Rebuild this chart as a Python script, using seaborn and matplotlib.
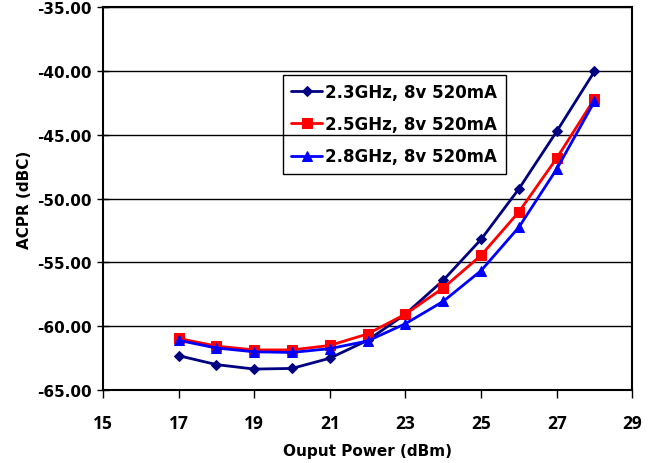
import numpy as np
import pandas as pd
import matplotlib
matplotlib.use('Agg')
import matplotlib.pyplot as plt
import seaborn as sns

# Dados
potencia = [17, 18, 19, 20, 21, 22, 23, 24, 25, 26, 27, 28]
acpr_23 = [-62.3, -63.0, -63.35, -63.3, -62.5, -61.1, -59.05, -56.4, -53.2, -49.25, -44.75, -40.05]
acpr_25 = [-60.95, -61.55, -61.85, -61.85, -61.5, -60.6, -59.05, -57.0, -54.45, -51.05, -46.85, -42.2]
acpr_28 = [-61.1, -61.7, -62.0, -62.05, -61.75, -61.15, -59.8, -58.05, -55.65, -52.25, -47.7, -42.4]

series = ['2.3GHz, 8v 520mA', '2.5GHz, 8v 520mA', '2.8GHz, 8v 520mA']
cores = ['#000080', '#FF0000', '#0000FF']
marcadores = ['D', 's', '^']

df = pd.DataFrame({
    'Potencia': potencia * 3,
    'ACPR': acpr_23 + acpr_25 + acpr_28,
    'Serie': np.repeat(series, len(potencia)),
})

sns.set_style('white')
plt.rcParams['font.family'] = ['DejaVu Sans']
plt.rcParams.update({'text.color': 'black', 'axes.labelcolor': 'black',
                     'xtick.color': 'black', 'ytick.color': 'black'})

fig = plt.figure(figsize=(6.6, 4.64), dpi=100)
ax = fig.add_axes([0.156, 0.157, 0.802, 0.826])

for nome, cor, mk in zip(series, cores, marcadores):
    sub = df[df['Serie'] == nome]
    sns.lineplot(data=sub, x='Potencia', y='ACPR', ax=ax, color=cor, marker=mk,
                 markersize=7 if mk != 'D' else 5.5, markeredgecolor=cor,
                 linewidth=2, label=nome)

ax.set_xlim(15, 29)
ax.set_ylim(-65, -35)
ax.set_xticks(range(15, 30, 2))
ax.set_yticks(range(-65, -34, 5))
ax.set_yticklabels([f'{v:.2f}' for v in range(-65, -34, 5)], fontsize=11, fontweight='bold')
ax.set_xticklabels([str(v) for v in range(15, 30, 2)], fontsize=12.5, fontweight='bold',
                   family='Open Sans')
ax.yaxis.grid(True, color='black', linewidth=1)
ax.set_axisbelow(True)
for s in ax.spines.values():
    s.set_color('black')
    s.set_linewidth(1.5)
ax.tick_params(axis='x', direction='out', length=6, width=1, color='black', bottom=True, pad=11)
ax.tick_params(axis='y', direction='inout', length=8, width=1, color='black', left=True, pad=4)

ax.set_xlabel('Ouput Power (dBm)', fontsize=11, fontweight='bold', labelpad=8)
ax.set_ylabel('ACPR (dBC)', fontsize=11, fontweight='bold', labelpad=4)

leg = ax.legend(loc='upper left', bbox_to_anchor=(0.34, 0.823), borderaxespad=0,
                frameon=True, fancybox=False, edgecolor='black', framealpha=1,
                prop={'weight': 'bold', 'size': 12}, handlelength=1.85,
                labelspacing=0.85, borderpad=0.5, handletextpad=0.2)
leg.get_frame().set_facecolor('none')
leg.get_frame().set_linewidth(1)

fig.savefig('out.png', dpi=100)
